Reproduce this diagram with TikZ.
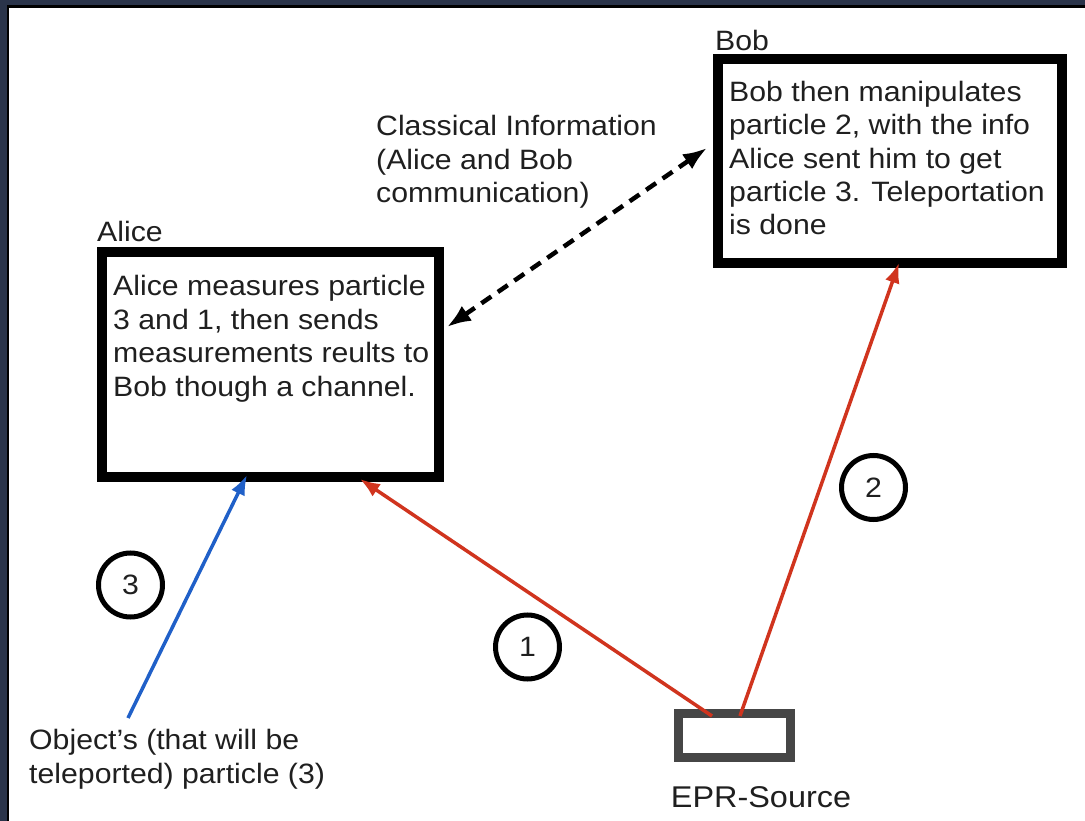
\documentclass[tikz,border=0pt]{standalone}
\usepackage{fontspec}
\setmainfont{Liberation Sans}[FakeStretch=1.08]
\usetikzlibrary{arrows.meta}
\definecolor{frameblue}{RGB}{42,52,74}
\definecolor{epred}{RGB}{208,52,30}
\definecolor{objblue}{RGB}{32,96,200}
\definecolor{srcgray}{RGB}{70,70,70}
\begin{document}
\begin{tikzpicture}[x=1pt,y=-1pt,
  every node/.style={font=\fontsize{28}{33.5}\selectfont,text=black!88},
  box/.style 2 args={draw,line width=10pt,minimum width=#1,minimum height=#2,inner sep=0pt},
  txt/.style={align=left,inner sep=0pt,anchor=base west},
  num/.style={circle,draw,line width=5pt,minimum size=64pt,inner sep=0pt},
  pair/.style={epred,line width=3.5pt,-{Latex[length=20pt,width=15pt]}}]
  \useasboundingbox (0,0) rectangle (1085,821);
  \fill[frameblue] (0,0) rectangle (1085,821);
  \fill[black] (7,5) rectangle (1085,821);
  \fill[white] (9,8) rectangle (1085,821);

  \node[box={337pt}{225pt}] (alice) at (270.5,364.5) {};
  \node[box={344pt}{204pt}] (bob) at (890,161) {};
  \node[box={112pt}{44pt},srcgray,line width=9pt] (epr) at (734.5,735.5) {};

  % base of multi-line texts = last line
  \node[txt] (alicename) at (97,242) {Alice};
  \node[txt] (bobname) at (715,51) {Bob};
  \node[txt] (alicetxt) at (113,396) {Alice measures particle\\3 and 1, then sends\\measurements reults to\\Bob though a channel.};
  \node[txt] (bobtxt) at (729,235) {Bob then manipulates\\particle 2, with the info\\Alice sent him to get\\particle 3. Teleportation\\is done};
  \node[txt] (classic) at (376,203) {Classical Information\\(Alice and Bob\\communication)};
  \node[txt] (object) at (29,783) {Object’s (that will be\\teleported) particle (3)};
  \node[anchor=base,inner sep=0pt,font=\fontsize{30}{36}\selectfont] (eprname) at (761,807) {EPR-Source};

  \node[num] (one) at (527.5,647) {1};
  \node[num] (two) at (873.5,487.5) {2};
  \node[num] (three) at (130.5,585) {3};

  \coordinate (eprA) at (712,716);
  \coordinate (eprB) at (740,716);
  \coordinate (aliceA) at (360,479);
  \coordinate (aliceB) at (247,475);
  \coordinate (bobA) at (899,263);
  \coordinate (objA) at (128,718);
  \coordinate (dashA) at (447,327);
  \coordinate (dashB) at (707,148);

  \draw[pair] (eprA) -- (aliceA);
  \draw[pair] (eprB) -- (bobA);
  \draw[objblue,line width=3.5pt,-{Latex[length=20pt,width=15pt]}] (objA) -- (aliceB);
  \draw[line width=4.5pt,dash pattern=on 12pt off 8pt,{Latex[length=24pt,width=18pt]}-{Latex[length=24pt,width=18pt]}] (dashA) -- (dashB);
\end{tikzpicture}
\end{document}
